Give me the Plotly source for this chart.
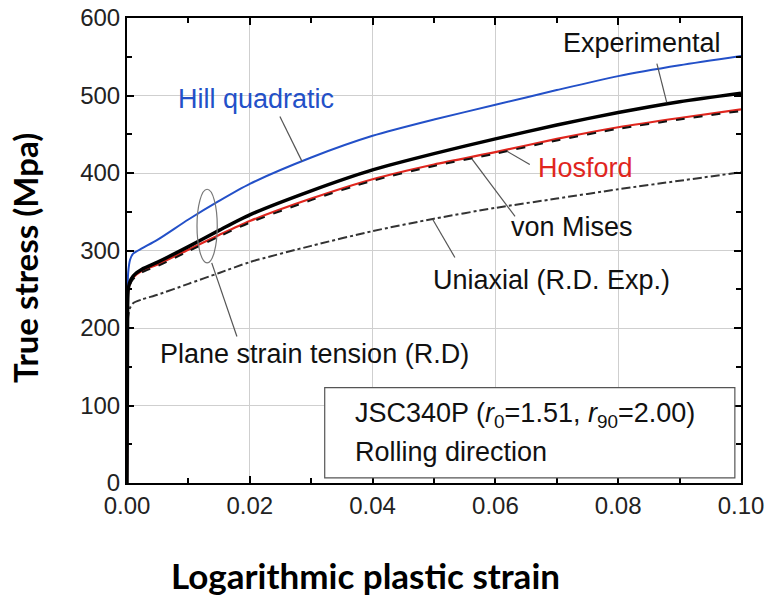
import plotly.graph_objects as go

# ---- data ----
strain = [0.0, 0.0001, 0.0002, 0.0005, 0.001, 0.0025, 0.005, 0.01, 0.015, 0.02,
          0.03, 0.04, 0.05, 0.06, 0.07, 0.08, 0.09, 0.10]
hill = [0, 250, 272, 288, 296, 303, 314, 340, 364, 386,
        420, 448, 469, 488, 507, 525, 539, 551]
experimental = [0, 230, 250, 260, 267, 276, 285, 305, 326, 346,
                377, 404, 425, 444, 462, 478, 492, 503]
hosford = [0, 230, 248, 258, 265, 274, 282, 301, 320, 338,
           367, 392, 411, 427, 444, 459, 471, 482]
von_mises = [0, 228, 246, 256, 263, 272, 280, 299, 318, 336,
             365, 390, 409, 425, 442, 457, 469, 480]
uniaxial = [0, 190, 215, 226, 232, 237, 243, 257, 271, 285,
            306, 325, 341, 355, 367, 379, 390, 401]

x_ticks = [0.0, 0.02, 0.04, 0.06, 0.08, 0.10]
x_tick_labels = ["0.00", "0.02", "0.04", "0.06", "0.08", "0.10"]
y_ticks = [0, 100, 200, 300, 400, 500, 600]

BLUE = "#2350c8"
RED = "#e0261e"
FONT = "Liberation Sans, Arial, sans-serif"
SM = 0.7

fig = go.Figure()
fig.add_trace(go.Scatter(x=strain, y=uniaxial, mode="lines", name="Uniaxial (R.D. Exp.)",
                         line=dict(color="#333333", width=2, dash="dashdot",
                                   shape="spline", smoothing=SM)))
fig.add_trace(go.Scatter(x=strain, y=hill, mode="lines", name="Hill quadratic",
                         line=dict(color=BLUE, width=2, shape="spline", smoothing=SM)))
fig.add_trace(go.Scatter(x=strain, y=hosford, mode="lines", name="Hosford",
                         line=dict(color=RED, width=2.2, shape="spline", smoothing=SM)))
fig.add_trace(go.Scatter(x=strain, y=von_mises, mode="lines", name="von Mises",
                         line=dict(color="#111111", width=2, dash="dash",
                                   shape="spline", smoothing=SM)))
fig.add_trace(go.Scatter(x=strain, y=experimental, mode="lines", name="Experimental",
                         line=dict(color="#000000", width=3.5, shape="spline", smoothing=SM)))

# leader lines
leaders = [
    (0.0249, 473, 0.0285, 415),   # Hill
    (0.0863, 541, 0.0879, 491),   # Experimental
    (0.0656, 411, 0.0619, 428),   # Hosford
    (0.0632, 344, 0.0562, 418),   # von Mises
    (0.0534, 291, 0.0498, 340),   # Uniaxial
    (0.0179, 189, 0.0138, 284),   # Plane strain
]
for x0, y0, x1, y1 in leaders:
    fig.add_shape(type="line", x0=x0, y0=y0, x1=x1, y1=y1, xref="x", yref="y",
                  line=dict(color="#555555", width=1.2))

# ellipse
fig.add_shape(type="circle", x0=0.0114, x1=0.0147, y0=284, y1=379, xref="x", yref="y",
              line=dict(color="#777777", width=1.2))

# info box
fig.add_shape(type="rect", x0=0.0322, x1=0.0990, y0=6.5, y1=123, xref="x", yref="y",
              line=dict(color="#555555", width=1.2), fillcolor="white", layer="above")

labels = [
    ("Hill quadratic", 0.0210, 495, BLUE),
    ("Experimental", 0.0839, 568, "#111111"),
    ("Hosford", 0.0746, 407, RED),
    ("von Mises", 0.0725, 330, "#111111"),
    ("Uniaxial (R.D. Exp.)", 0.0692, 262, "#111111"),
    ("Plane strain tension (R.D)", 0.0306, 166, "#111111"),
]
for text, x, y, c in labels:
    fig.add_annotation(x=x, y=y, xref="x", yref="y", text=text, showarrow=False,
                       xanchor="center", yanchor="middle",
                       font=dict(family=FONT, size=27, color=c))

fig.add_annotation(x=0.0368, y=88, xref="x", yref="y",
                   text="JSC340P (<i>r</i><sub>0</sub>=1.51, <i>r</i><sub>90</sub>=2.00)",
                   showarrow=False, xanchor="left", yanchor="middle",
                   font=dict(family=FONT, size=27, color="#111111"))
fig.add_annotation(x=0.0368, y=40, xref="x", yref="y", text="Rolling direction",
                   showarrow=False, xanchor="left", yanchor="middle",
                   font=dict(family=FONT, size=27, color="#111111"))

# axis titles
fig.add_annotation(x=0.388, y=-0.198, xref="paper", yref="paper",
                   text="<b>Logarithmic plastic strain</b>", showarrow=False,
                   xanchor="center", yanchor="middle",
                   font=dict(family="Lato, sans-serif", size=35, color="#000000"))
fig.add_annotation(x=-0.166, y=0.484, xref="paper", yref="paper",
                   text="<b>True stress (Mpa)</b>", showarrow=False, textangle=-90,
                   xanchor="center", yanchor="middle",
                   font=dict(family="Lato, sans-serif", size=33, color="#000000"))

axis_common = dict(showline=True, linecolor="#000000", linewidth=2, mirror="ticks",
                   ticks="inside", ticklen=7, tickwidth=1.5, tickcolor="#000000",
                   showgrid=True, gridcolor="#cfcfcf", gridwidth=1, zeroline=False,
                   automargin=False,
                   tickfont=dict(family=FONT, size=24, color="#222222"))

fig.update_xaxes(range=[0, 0.1], tickvals=x_ticks, ticktext=x_tick_labels,
                 minor=dict(dtick=0.01, ticks="inside", ticklen=5, tickcolor="#000000",
                            showgrid=False),
                 **axis_common)
fig.update_yaxes(range=[0, 600], tickvals=y_ticks,
                 minor=dict(dtick=50, ticks="inside", ticklen=5, tickcolor="#000000",
                            showgrid=False),
                 **axis_common)

fig.update_layout(width=767, height=598, margin=dict(l=127, r=26, t=18, b=115),
                  paper_bgcolor="white", plot_bgcolor="white", showlegend=False)

fig.write_html("out.html", config={"displayModeBar": False},
               post_script="document.body.style.margin='0px';document.body.style.overflow='hidden';")
